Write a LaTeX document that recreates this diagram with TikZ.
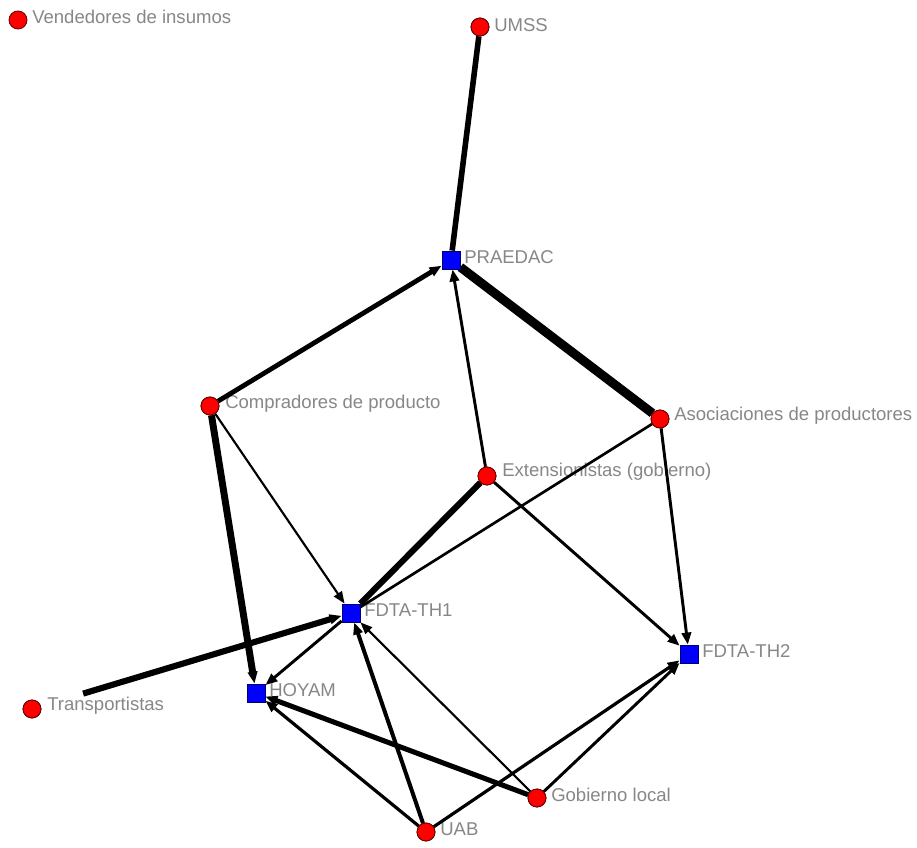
\documentclass[tikz,border=0pt]{standalone}
\usepackage{fontspec}
\setmainfont{Liberation Sans}
\usetikzlibrary{arrows.meta}
\definecolor{lbl}{RGB}{135,135,135}
\definecolor{nred}{RGB}{255,0,0}
\definecolor{nblue}{RGB}{0,0,255}
\begin{document}
\begin{tikzpicture}[x=0.75pt,y=-0.75pt,
  actor/.style={circle,fill=nred,draw=black!60!red,line width=0.6pt,minimum size=13.5pt,inner sep=0pt},
  org/.style={rectangle,fill=nblue,draw=black!60!blue,line width=0.6pt,minimum size=13.5pt,inner sep=0pt},
  lab/.style={anchor=west,text=lbl,font=\fontsize{13.9}{15}\selectfont,inner sep=0pt},
  tie/.style={draw=black,line width=#1},
  tie/.default=2pt,
  arr/.style={-{Triangle[length=9pt,width=7pt]}},
]
\useasboundingbox (0,0) rectangle (917,848);
\fill[white] (0,0) rectangle (917,848);
% nodes
\node[actor] (ven) at (18,20) {};
\node[actor] (umss) at (480,27) {};
\node[org] (pra) at (451,260) {};
\node[actor] (com) at (210,406) {};
\node[actor] (aso) at (660,419) {};
\node[actor] (ext) at (487,476) {};
\node[org] (th1) at (351,613) {};
\node[org] (th2) at (689,654) {};
\node[actor] (tra) at (32,709) {};
\node[org] (hoy) at (256,693) {};
\node[actor] (gob) at (537,798) {};
\node[actor] (uab) at (426,832) {};
% labels
\node[lab] (lven) at (32,17) {Vendedores de insumos};
\node[lab] (lumss) at (494,25) {UMSS};
\node[lab] (lpra) at (464,257) {PRAEDAC};
\node[lab] (lcom) at (225,404) {Compradores de producto};
\node[lab] (laso) at (674,416) {Asociaciones de productores};
\node[lab] (lext) at (502,472) {Extensionistas (gobierno)};
\node[lab] (lth1) at (364,610) {FDTA-TH1};
\node[lab] (lth2) at (702,651) {FDTA-TH2};
\node[lab] (ltra) at (47,706) {Transportistas};
\node[lab] (lhoy) at (269,690) {HOYAM};
\node[lab] (lgob) at (551,795) {Gobierno local};
\node[lab] (luab) at (440,829) {UAB};
% edges
\draw[tie=4.2pt] (umss) -- (pra);
\draw[tie=6.8pt] (pra) -- (aso);
\draw[tie=3.6pt,arr] (com) -- (pra);
\draw[tie=2.2pt,arr] (ext) -- (pra);
\draw[tie=5.2pt,arr] (com) -- (hoy);
\draw[tie=1.6pt,arr] (com) -- (th1);
\draw[tie=4.6pt] (ext) -- (th1);
\draw[tie=2pt] (aso) -- (th1);
\draw[tie=2.2pt,arr] (ext) -- (th2);
\draw[tie=2.2pt,arr] (aso) -- (th2);
\draw[tie=4.6pt,arr,shorten <=33pt] (tra) -- (th1);
\draw[tie=2.2pt,arr] (th1) -- (hoy);
\draw[tie=3pt,arr] (uab) -- (th1);
\draw[tie=1.6pt,arr] (gob) -- (th1);
\draw[tie=3.8pt,arr] (gob) -- (hoy);
\draw[tie=2.4pt,arr] (uab) -- (hoy);
\draw[tie=2.4pt,arr] (uab) -- (th2);
\draw[tie=2.2pt,arr] (gob) -- (th2);
% redraw nodes on top
\node[actor] at (umss) {};
\node[org] at (pra) {};
\node[actor] at (com) {};
\node[actor] at (aso) {};
\node[actor] at (ext) {};
\node[org] at (th1) {};
\node[org] at (th2) {};
\node[actor] at (tra) {};
\node[org] at (hoy) {};
\node[actor] at (gob) {};
\node[actor] at (uab) {};
\end{tikzpicture}
\end{document}
